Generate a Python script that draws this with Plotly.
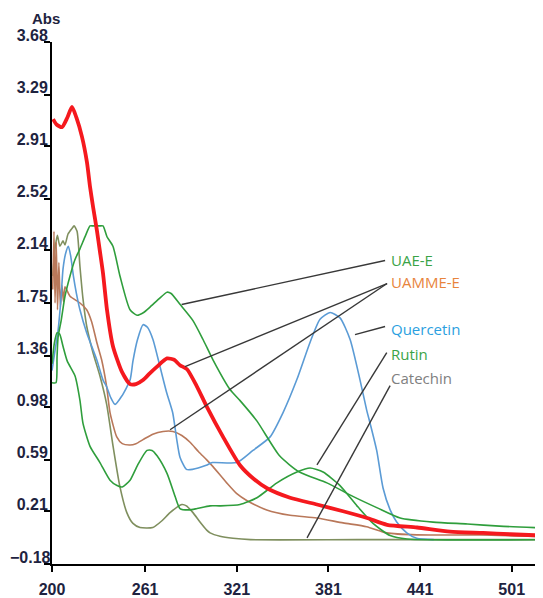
import plotly.graph_objects as go

# ---------------- data ----------------
uamme_red_wl = [200.7, 203.0, 206.5, 210.0, 213.1, 216.0, 219.6, 222.9, 224.9, 226.9, 229.5, 231.4, 233.4,
                236.0, 239.9, 245.8, 251.1, 255.0, 259.6, 264.0, 268.8, 275.3, 280.0, 283.8, 288.4, 295.0,
                301.5, 312.0, 323.1, 332.0, 340.8, 355.9, 373.5, 390.6, 406.3, 419.4, 439.0, 460.6, 482.3,
                500.0, 521.5]
uamme_red_abs = [3.11, 3.07, 3.05, 3.12, 3.20, 3.12, 2.98, 2.79, 2.61, 2.46, 2.28, 2.13, 1.97,
                 1.70, 1.43, 1.24, 1.15, 1.15, 1.18, 1.23, 1.28, 1.34, 1.33, 1.29, 1.26, 1.13,
                 0.98, 0.76, 0.55, 0.45, 0.38, 0.31, 0.26, 0.21, 0.16, 0.11, 0.09, 0.06, 0.05,
                 0.04, 0.03]

uamme_brown_wl = [200.5, 201.3, 202.0, 202.8, 203.6, 204.5, 205.5, 206.5, 207.5, 208.5, 211.8, 218.3, 222.7,
                  226.0, 229.3, 232.5, 235.8, 238.0, 242.4, 246.0, 251.1, 255.0, 259.6, 266.0, 272.7, 279.2,
                  285.0, 290.4, 296.0, 301.3, 305.4, 314.4, 321.0, 327.5, 340.6, 355.9, 373.3, 390.6, 406.0,
                  419.2, 438.8, 480.0, 521.5]
uamme_brown_abs = [1.85, 2.28, 1.75, 2.20, 1.70, 2.05, 1.72, 1.88, 1.76, 1.87, 1.80, 1.75, 1.70,
                   1.61, 1.46, 1.33, 1.13, 0.94, 0.76, 0.71, 0.70, 0.71, 0.74, 0.78, 0.80, 0.80,
                   0.77, 0.72, 0.65, 0.59, 0.54, 0.42, 0.34, 0.29, 0.22, 0.18, 0.16, 0.124, 0.096,
                   0.05, 0.035, 0.035, 0.022]

uae_wl = [200.0, 202.6, 203.3, 204.0, 206.0, 208.5, 211.8, 215.0, 218.3, 222.0, 224.9, 226.9, 231.0,
          233.4, 236.0, 239.9, 244.5, 251.1, 255.7, 260.0, 264.2, 270.0, 275.3, 278.0, 283.8, 292.3,
          298.9, 305.4, 316.6, 323.0, 334.0, 349.0, 362.0, 380.0, 397.0, 413.0, 428.0, 449.5, 472.0,
          493.0, 521.5]
uae_abs = [1.16, 1.16, 1.35, 1.50, 1.62, 1.80, 1.95, 2.07, 2.15, 2.25, 2.32, 2.32, 2.32,
           2.32, 2.24, 2.17, 1.95, 1.70, 1.66, 1.68, 1.72, 1.78, 1.83, 1.82, 1.74, 1.62,
           1.48, 1.33, 1.11, 1.03, 0.88, 0.62, 0.50, 0.42, 0.32, 0.235, 0.16, 0.13, 0.116,
           0.10, 0.087]

quercetin_wl = [200.0, 202.0, 204.0, 206.0, 207.2, 209.0, 210.7, 212.2, 214.0, 216.0, 218.3, 222.7, 229.3,
                233.4, 235.8, 238.5, 241.3, 245.6, 251.1, 253.0, 256.0, 259.6, 262.5, 266.1, 270.7, 275.0,
                279.0, 281.7, 283.8, 288.0, 292.0, 301.0, 305.0, 321.0, 331.6, 342.8, 351.3, 360.2, 369.0,
                375.5, 382.1, 388.6, 395.2, 401.7, 406.0, 408.3, 412.6, 416.8, 421.4, 425.7, 432.3, 438.8,
                450.0]
quercetin_abs = [1.25, 1.40, 1.55, 1.80, 2.00, 2.12, 2.17, 2.10, 1.95, 1.82, 1.70, 1.53, 1.33,
                 1.18, 1.13, 1.05, 1.00, 1.06, 1.18, 1.32, 1.48, 1.59, 1.57, 1.48, 1.28, 1.09,
                 0.94, 0.74, 0.61, 0.52, 0.52, 0.55, 0.57, 0.57, 0.66, 0.76, 0.94, 1.18, 1.46,
                 1.63, 1.68, 1.64, 1.48, 1.18, 0.96, 0.86, 0.66, 0.38, 0.22, 0.13, 0.05, 0.01,
                 0.0]

rutin_wl = [200.0, 201.5, 203.3, 205.0, 207.2, 210.0, 215.1, 218.3, 220.3, 224.9, 231.4, 238.0, 242.6,
            246.0, 251.1, 256.0, 262.2, 265.5, 268.8, 275.3, 280.6, 283.8, 290.0, 295.0, 303.5, 310.0,
            323.1, 334.2, 347.3, 360.4, 369.0, 377.5, 388.6, 399.7, 410.2, 421.4, 432.5, 521.5]
rutin_abs = [1.30, 1.45, 1.53, 1.52, 1.43, 1.32, 1.21, 1.03, 0.86, 0.69, 0.57, 0.44, 0.40,
             0.39, 0.44, 0.55, 0.66, 0.66, 0.62, 0.49, 0.32, 0.23, 0.22, 0.23, 0.25, 0.25,
             0.26, 0.31, 0.42, 0.50, 0.53, 0.50, 0.40, 0.25, 0.12, 0.03, 0.005, 0.0]

catechin_wl = [200.5, 202.0, 203.5, 205.2, 207.2, 208.5, 210.5, 213.0, 214.5, 216.4, 218.3, 220.3, 222.7,
               226.9, 231.4, 235.8, 240.0, 244.5, 249.0, 253.0, 257.6, 266.0, 272.0, 277.3, 285.0, 288.0,
               292.3, 296.9, 301.3, 303.5, 310.0, 318.5, 330.0, 400.0, 521.5]
catechin_abs = [1.95, 2.15, 2.25, 2.17, 2.21, 2.18, 2.26, 2.30, 2.32, 2.28, 2.02, 1.78, 1.58,
                1.38, 1.21, 1.00, 0.69, 0.39, 0.20, 0.12, 0.09, 0.09, 0.14, 0.20, 0.26, 0.25,
                0.20, 0.13, 0.07, 0.05, 0.025, 0.01, 0.0, 0.0, 0.0]

x_tick_vals = [200, 261, 321, 381, 441, 501]
x_tick_text = ["200", "261", "321", "381", "441", "501"]
y_tick_vals = [3.68, 3.29, 2.91, 2.52, 2.14, 1.75, 1.36, 0.98, 0.59, 0.21, -0.18]
y_tick_text = ["3.68", "3.29", "2.91", "2.52", "2.14", "1.75", "1.36", "0.98", "0.59", "0.21", "\u22120.18"]

label_names = ["UAE-E", "UAMME-E", "Quercetin", "Rutin", "Catechin"]

# ---------------- styling / layout ----------------
GREEN = "#2f9e3c"
RED = "#f5191e"
BROWN = "#b9785a"
BLUE = "#5b9bd5"
OLIVE = "#7f8f5e"
TICK_COLOR = "#1e2340"

fig = go.Figure()

def add(wl, ab, color, width, name):
    fig.add_trace(go.Scatter(x=wl, y=ab, mode="lines", name=name,
                             line=dict(color=color, width=width, shape="spline", smoothing=0.6),
                             hoverinfo="skip"))

add(catechin_wl, catechin_abs, OLIVE, 1.6, "Catechin")
add(uamme_brown_wl, uamme_brown_abs, BROWN, 1.6, "UAMME-E (b)")
add(quercetin_wl, quercetin_abs, BLUE, 1.6, "Quercetin")
add(rutin_wl, rutin_abs, GREEN, 1.6, "Rutin")
add(uae_wl, uae_abs, GREEN, 1.6, "UAE-E")
add(uamme_red_wl, uamme_red_abs, RED, 3.8, "UAMME-E")

# label texts (data coordinates)
label_pos = [(420.7, 2.067), (420.7, 1.904), (420.7, 1.559), (420.7, 1.376), (420.7, 1.196)]
label_colors = ["#3aa346", "#e8843c", "#2b9fe0", "#3aa346", "#808080"]
for name, (lx, ly), c in zip(label_names, label_pos, label_colors):
    fig.add_annotation(x=lx, y=ly, text=name, showarrow=False, xanchor="left", yanchor="middle",
                       font=dict(family="Open Sans", size=15, color=c))

# leader lines (start near label -> end at curve)
leaders = [((418.1, 2.064), (284.9, 1.739)),
           ((419.4, 1.894), (287.1, 1.279)),
           ((419.4, 1.894), (277.3, 0.813)),
           ((418.1, 1.576), (398.4, 1.516)),
           ((419.2, 1.383), (373.5, 0.553)),
           ((421.4, 1.139), (367.0, 0.013))]
for (x0, y0), (x1, y1) in leaders:
    fig.add_shape(type="line", x0=x0, y0=y0, x1=x1, y1=y1, xref="x", yref="y",
                  line=dict(color="#383838", width=1.4))

fig.add_annotation(x=-0.012, y=1.045, xref="paper", yref="paper", text="<b>Abs</b>", showarrow=False,
                   xanchor="center", yanchor="middle",
                   font=dict(family="Liberation Sans, Arial", size=15, color=TICK_COLOR))

# the lowest y label sits right against the axis in the reference; draw it as text so it is not clipped
fig.add_annotation(x=-0.0896, y=y_tick_vals[-1], xref="paper", yref="y", yshift=7,
                   text="<b>%s</b>" % y_tick_text[-1], showarrow=False, xanchor="left", yanchor="middle",
                   font=dict(family="Liberation Sans, Arial", size=16, color=TICK_COLOR))

# the page body adds an 8px offset; the figure is sized to fill the remaining window
tickfont = dict(family="Liberation Sans, Arial", size=16, color=TICK_COLOR)
fig.update_layout(
    template="none",
    width=535, height=590,
    margin=dict(l=44, r=0, t=34, b=34, autoexpand=False),
    paper_bgcolor="white", plot_bgcolor="white",
    showlegend=False,
    xaxis=dict(range=[200, 521.5], automargin=False, showgrid=False, zeroline=False, showline=True,
               linecolor="black", linewidth=2, ticks="outside", ticklen=6, tickwidth=2, tickcolor="black",
               ticklabelstandoff=4,
               tickvals=x_tick_vals, ticktext=["<b>%s</b>" % t for t in x_tick_text], tickfont=tickfont),
    yaxis=dict(range=[-0.18, 3.68], automargin=False, showgrid=False, zeroline=False, showline=True,
               linecolor="black", linewidth=2, ticks="outside", ticklen=6, tickwidth=2, tickcolor="black",
               ticklabelstandoff=-7, ticklabelshift=-7,
               tickvals=y_tick_vals,
               ticktext=["<b>%s</b>" % t for t in y_tick_text[:-1]] + [""],
               tickfont=tickfont),
)

fig.write_html("out.html")
